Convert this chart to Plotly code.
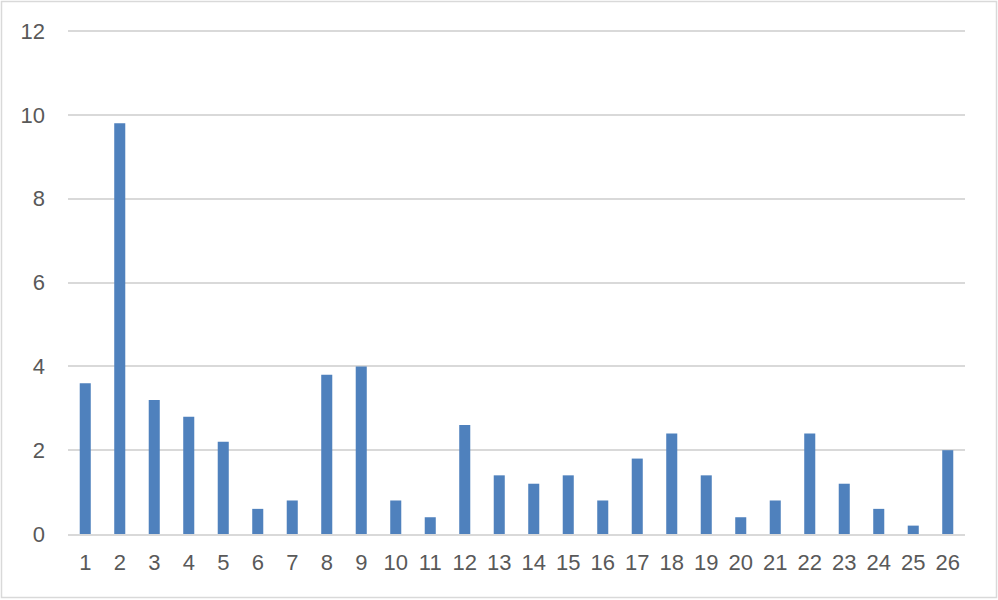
import plotly.graph_objects as go

categories = [str(i) for i in range(1, 27)]
values = [3.6, 9.8, 3.2, 2.8, 2.2, 0.6, 0.8, 3.8, 4.0, 0.8, 0.4, 2.6, 1.4,
          1.2, 1.4, 0.8, 1.8, 2.4, 1.4, 0.4, 0.8, 2.4, 1.2, 0.6, 0.2, 2.0]
y_ticks = [0, 2, 4, 6, 8, 10, 12]

W, H = 998, 600
L, R, T, B = 68, 33, 27, 66
pw, ph = W - L - R, H - T - B

def px_x(x):
    return (x - L) / pw

def px_y(y):
    return (H - B - y) / ph

fig = go.Figure(go.Bar(x=categories, y=values, marker=dict(color="#4f81bd", line=dict(width=0)),
                       width=0.32))

font = dict(family="Liberation Sans, Arial, sans-serif", size=22, color="#595959")
fig.update_layout(
    width=W, height=H,
    margin=dict(l=L, r=R, t=T, b=B, pad=0),
    paper_bgcolor="white", plot_bgcolor="white",
    showlegend=False,
    font=font,
    xaxis=dict(type="category", showgrid=False, showline=True, linecolor="#d9d9d9", linewidth=2,
               ticks="", tickfont=font, ticklabelstandoff=8, zeroline=False),
    yaxis=dict(range=[0, 12.1], tickvals=y_ticks, showgrid=True, gridcolor="#d9d9d9", gridwidth=2,
               zeroline=False, showline=False, ticks="", tickfont=font, ticklabelstandoff=22),
    shapes=[dict(type="rect", xref="paper", yref="paper",
                 x0=px_x(1.5), x1=px_x(996.5), y0=px_y(597.5), y1=px_y(1.5),
                 line=dict(color="#d9d9d9", width=1.5), fillcolor="rgba(0,0,0,0)", layer="below")],
)

fig.write_html("out.html", config={"displayModeBar": False},
               post_script="document.body.style.margin='0';document.body.style.overflow='hidden';")
